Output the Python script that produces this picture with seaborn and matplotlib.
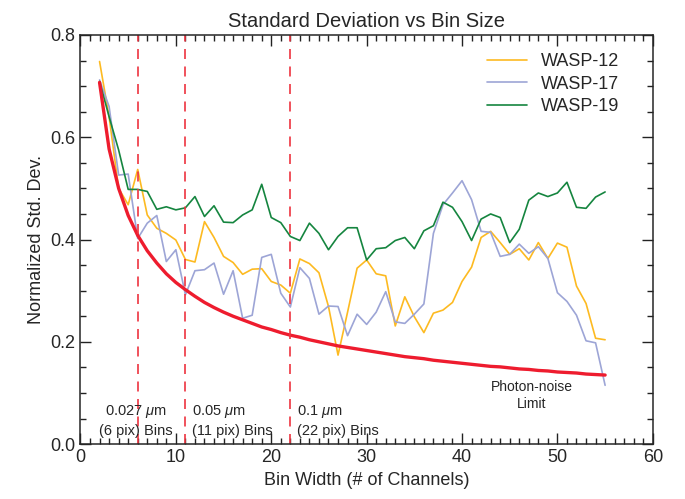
import pandas as pd
import matplotlib.pyplot as plt
import seaborn as sns
from matplotlib.ticker import MultipleLocator

plt.switch_backend('Agg')

# Bin widths (number of channels)
bin_width = list(range(2, 56))

wasp12 = [0.748, 0.640, 0.500, 0.468, 0.537, 0.448, 0.422, 0.412, 0.399, 0.361,
          0.356, 0.435, 0.404, 0.367, 0.355, 0.332, 0.342, 0.343, 0.318, 0.311,
          0.295, 0.362, 0.353, 0.335, 0.269, 0.174, 0.258, 0.344, 0.360, 0.333,
          0.329, 0.231, 0.288, 0.249, 0.218, 0.256, 0.262, 0.277, 0.318, 0.346,
          0.404, 0.416, 0.394, 0.371, 0.382, 0.360, 0.394, 0.363, 0.393, 0.385,
          0.309, 0.275, 0.207, 0.204]

wasp17 = [0.712, 0.660, 0.526, 0.528, 0.402, 0.432, 0.447, 0.357, 0.380, 0.292,
          0.339, 0.341, 0.354, 0.293, 0.339, 0.246, 0.252, 0.365, 0.371, 0.295,
          0.268, 0.345, 0.324, 0.254, 0.270, 0.269, 0.212, 0.254, 0.234, 0.258,
          0.298, 0.239, 0.236, 0.254, 0.274, 0.412, 0.468, 0.491, 0.515, 0.478,
          0.416, 0.414, 0.367, 0.371, 0.391, 0.373, 0.386, 0.363, 0.296, 0.279,
          0.252, 0.202, 0.198, 0.115]

wasp19 = [0.709, 0.640, 0.575, 0.498, 0.498, 0.494, 0.459, 0.464, 0.458, 0.462,
          0.484, 0.445, 0.466, 0.434, 0.433, 0.448, 0.458, 0.508, 0.443, 0.433,
          0.406, 0.398, 0.432, 0.412, 0.380, 0.406, 0.423, 0.423, 0.360, 0.382,
          0.384, 0.398, 0.404, 0.382, 0.417, 0.427, 0.473, 0.463, 0.435, 0.398,
          0.440, 0.450, 0.443, 0.394, 0.420, 0.477, 0.491, 0.484, 0.491, 0.512,
          0.463, 0.461, 0.483, 0.493]

photon_limit = [0.707, 0.577, 0.500, 0.447, 0.408, 0.378, 0.354, 0.333, 0.316, 0.302,
                0.289, 0.277, 0.267, 0.258, 0.250, 0.243, 0.236, 0.229, 0.224, 0.218,
                0.213, 0.209, 0.204, 0.200, 0.196, 0.192, 0.189, 0.186, 0.183, 0.180,
                0.177, 0.174, 0.171, 0.169, 0.167, 0.164, 0.162, 0.160, 0.158, 0.156,
                0.154, 0.152, 0.151, 0.149, 0.147, 0.146, 0.144, 0.143, 0.141, 0.140,
                0.139, 0.137, 0.136, 0.135]

planets = ['WASP-12', 'WASP-17', 'WASP-19']
colors = ['#FDBA21', '#9DA5D6', '#15853F']

# binning choices marked on the plot
bin_marks = [6, 11, 22]
bin_labels = ['0.027 $\\mu$m\n(6 pix) Bins', '0.05 $\\mu$m\n(11 pix) Bins',
              '0.1 $\\mu$m\n(22 pix) Bins']

sns.set_style("ticks")
plt.rcParams['font.family'] = ['Liberation Sans', 'DejaVu Sans']
plt.rcParams['mathtext.fontset'] = 'custom'
plt.rcParams['mathtext.it'] = 'Liberation Sans:italic'
plt.rcParams['mathtext.rm'] = 'Liberation Sans'

df = pd.DataFrame({'Bin Width': bin_width * 3,
                   'Std': wasp12 + wasp17 + wasp19,
                   'Planet': [p for p in planets for _ in bin_width]})

fig, ax = plt.subplots(figsize=(6.85, 4.99), dpi=100)
fig.subplots_adjust(left=0.1175, right=0.953, bottom=0.110, top=0.930)

sns.lineplot(data=df, x='Bin Width', y='Std', hue='Planet', palette=colors,
             linewidth=1.2, ax=ax)
sns.lineplot(x=bin_width, y=photon_limit, color='#EE1C2E', linewidth=2.4, ax=ax,
             legend=False)

for xm in bin_marks:
    ax.axvline(xm, color='#EE3340', linestyle=(0, (6, 4.5)), linewidth=1.2)

ax.text(5.8, 0.012, bin_labels[0], ha='center', va='bottom', fontsize=10.5,
        linespacing=1.35)
ax.text(11.7, 0.012, bin_labels[1], ha='left', va='bottom', fontsize=10.5,
        linespacing=1.35)
ax.text(22.7, 0.012, bin_labels[2], ha='left', va='bottom', fontsize=10.5,
        linespacing=1.35)
ax.text(47.3, 0.126, 'Photon-noise\nLimit', ha='center', va='top', fontsize=10,
        linespacing=1.3)

ax.set_xlim(0, 60)
ax.set_ylim(0, 0.8)
ax.xaxis.set_major_locator(MultipleLocator(10))
ax.xaxis.set_minor_locator(MultipleLocator(1))
ax.yaxis.set_major_locator(MultipleLocator(0.2))
ax.yaxis.set_minor_locator(MultipleLocator(0.05))
ax.yaxis.set_major_formatter(plt.FormatStrFormatter('%.1f'))
ax.tick_params(which='both', direction='in', top=True, right=True, width=1.0,
               labelsize=13, color='#222222')
ax.tick_params(which='major', length=8)
ax.tick_params(which='minor', length=4)
for s in ax.spines.values():
    s.set_linewidth(1.1)

ax.set_xlabel('Bin Width (# of Channels)', fontsize=13)
ax.set_ylabel('Normalized Std. Dev.', fontsize=13)
ax.set_title('Standard Deviation vs Bin Size', fontsize=14.5)

ax.legend(title=None, frameon=False, fontsize=13, loc='upper right',
          bbox_to_anchor=(0.97, 0.995), handlelength=2.2, labelspacing=0.3)

plt.savefig('out.png', dpi=100)
plt.close()
